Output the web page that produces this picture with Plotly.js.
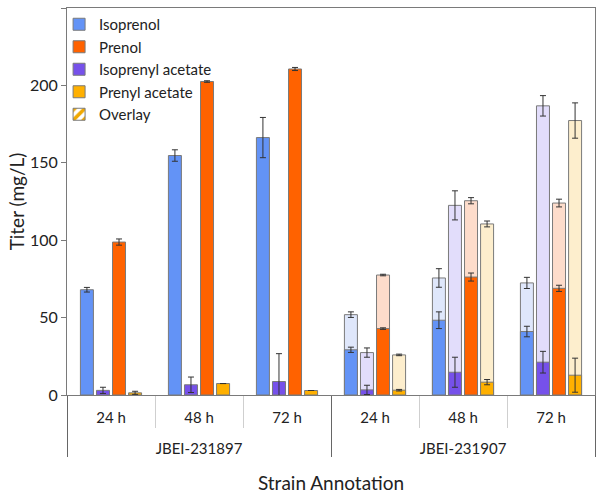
<!DOCTYPE html>
<html>
<head>
<meta charset="utf-8">
<script src="https://cdn.plot.ly/plotly-3.0.1.min.js"></script>
<style>html,body{margin:0;padding:0;background:#fff}#chart{width:597px;height:496px}</style>
</head>
<body>
<div id="chart"></div>
<script>
// ---- data ----
const strains = ['JBEI-231897','JBEI-231897','JBEI-231897','JBEI-231907','JBEI-231907','JBEI-231907'];
const times = ['24 h','48 h','72 h','24 h','48 h','72 h'];

// solid bars (measured titer, mg/L)
const isoprenol = [68, 154.7, 166.3, 29.2, 48.3, 41];
const isoprenolErr = [1.5, 3.7, 13, 1.7, 5.4, 3.4];
const isoprenylAcetate = [3, 6.6, 8.7, 3.3, 14.7, 21.2];
const isoprenylAcetateErr = [2, 5, 18, 3, 9.7, 7];
const prenol = [98.8, 202.5, 210.6, 42.9, 76.2, 68.9];
const prenolErr = [2, 0.5, 1, 0.5, 2.6, 2];
const prenylAcetate = [1.4, 7.4, 2.9, 3.1, 8.3, 12.8];
const prenylAcetateErr = [1, 0, 0, 0.5, 1.7, 11];

// overlay bars (light, drawn behind) for JBEI-231907
const isoprenolOv = [null, null, null, 51.9, 75.6, 72.4];
const isoprenolOvErr = [0, 0, 0, 1.8, 6, 3.6];
const isoprenylAcetateOv = [null, null, null, 27.4, 122.5, 186.8];
const isoprenylAcetateOvErr = [0, 0, 0, 3, 9.4, 6.6];
const prenolOv = [null, null, null, 77.5, 125.5, 124];
const prenolOvErr = [0, 0, 0, 0.5, 2, 2.5];
const prenylAcetateOv = [null, null, null, 25.9, 110.5, 177.3];
const prenylAcetateOvErr = [0, 0, 0, 0.5, 1.9, 11.4];

const seriesNames = ['Isoprenol', 'Prenol', 'Isoprenyl acetate', 'Prenyl acetate', 'Overlay'];

// ---- styles ----
const solidColors = {iso: '#6393f6', isoAc: '#7651ea', pre: '#ff6200', preAc: '#ffb000'};
const lightColors = {iso: '#dfe7fb', isoAc: '#e2ddfb', pre: '#fddccb', preAc: '#fdeecd'};
const outline = {color: '#7a7a7a', width: 1};
// outer level label pushed down one line, as in the reference
const x = [strains.map(s => '<br>' + s), times];

function errStyle(arr) {
  return {type: 'data', array: arr, visible: true, color: '#333', thickness: 1, width: 3};
}
function light(vals, err, col, grp) {
  return {type: 'bar', x: x, y: vals, offsetgroup: grp, showlegend: false, hoverinfo: 'skip',
    marker: {color: col, line: outline}, error_y: errStyle(err)};
}
function solid(vals, err, col, grp, name, rank) {
  return {type: 'bar', x: x, y: vals, offsetgroup: grp, name: name, legendrank: rank,
    marker: {color: col, line: outline}, error_y: errStyle(err)};
}

const data = [
  light(isoprenolOv, isoprenolOvErr, lightColors.iso, 'a'),
  light(isoprenylAcetateOv, isoprenylAcetateOvErr, lightColors.isoAc, 'b'),
  light(prenolOv, prenolOvErr, lightColors.pre, 'c'),
  light(prenylAcetateOv, prenylAcetateOvErr, lightColors.preAc, 'd'),
  solid(isoprenol, isoprenolErr, solidColors.iso, 'a', seriesNames[0], 1),
  solid(isoprenylAcetate, isoprenylAcetateErr, solidColors.isoAc, 'b', seriesNames[2], 3),
  solid(prenol, prenolErr, solidColors.pre, 'c', seriesNames[1], 2),
  solid(prenylAcetate, prenylAcetateErr, solidColors.preAc, 'd', seriesNames[3], 4),
  {type: 'bar', x: x, y: times.map(() => null), offsetgroup: 'a', name: seriesNames[4], legendrank: 5,
    marker: {color: '#fdeecd', line: outline,
      pattern: {shape: '/', fgcolor: '#f0a800', size: 9, solidity: 0.5}}}
];

const font = 'Lato, "Open Sans", "DejaVu Sans", sans-serif';

const layout = {
  width: 597, height: 496,
  margin: {l: 67, r: 2, t: 8, b: 101},
  paper_bgcolor: '#fff', plot_bgcolor: '#fff',
  font: {family: font, color: '#222', size: 15},
  barmode: 'group', bargap: 0.27, bargroupgap: 0.19,
  showlegend: true,
  legend: {x: -0.015, y: 1.0, xanchor: 'left', yanchor: 'top', bgcolor: 'rgba(0,0,0,0)',
    font: {family: font, size: 15, color: '#222'}, tracegroupgap: 0, itemwidth: 30},
  xaxis: {
    showline: true, linecolor: '#7a7a7a', linewidth: 1, mirror: true,
    showdividers: true, dividercolor: '#666', dividerwidth: 1,
    ticks: 'outside', tickson: 'boundaries', ticklen: 32, tickcolor: '#cfcfcf', tickwidth: 1,
    ticklabelstandoff: 9,
    tickfont: {family: font, size: 15, color: '#222'},
    title: {text: 'Strain Annotation', font: {family: font, size: 19, color: '#222'}, standoff: 21},
    showgrid: false, zeroline: false
  },
  yaxis: {
    range: [0, 250], dtick: 50, tick0: 0,
    showline: true, linecolor: '#7a7a7a', linewidth: 1, mirror: true,
    ticks: 'outside', ticklen: 5, tickcolor: '#7a7a7a',
    tickfont: {family: font, size: 16, color: '#222'},
    title: {text: 'Titer (mg/L)', font: {family: font, size: 19, color: '#222'}, standoff: 0},
    showgrid: false, zeroline: false
  }
};

Plotly.newPlot('chart', data, layout, {displayModeBar: false, staticPlot: true});
</script>
</body>
</html>
